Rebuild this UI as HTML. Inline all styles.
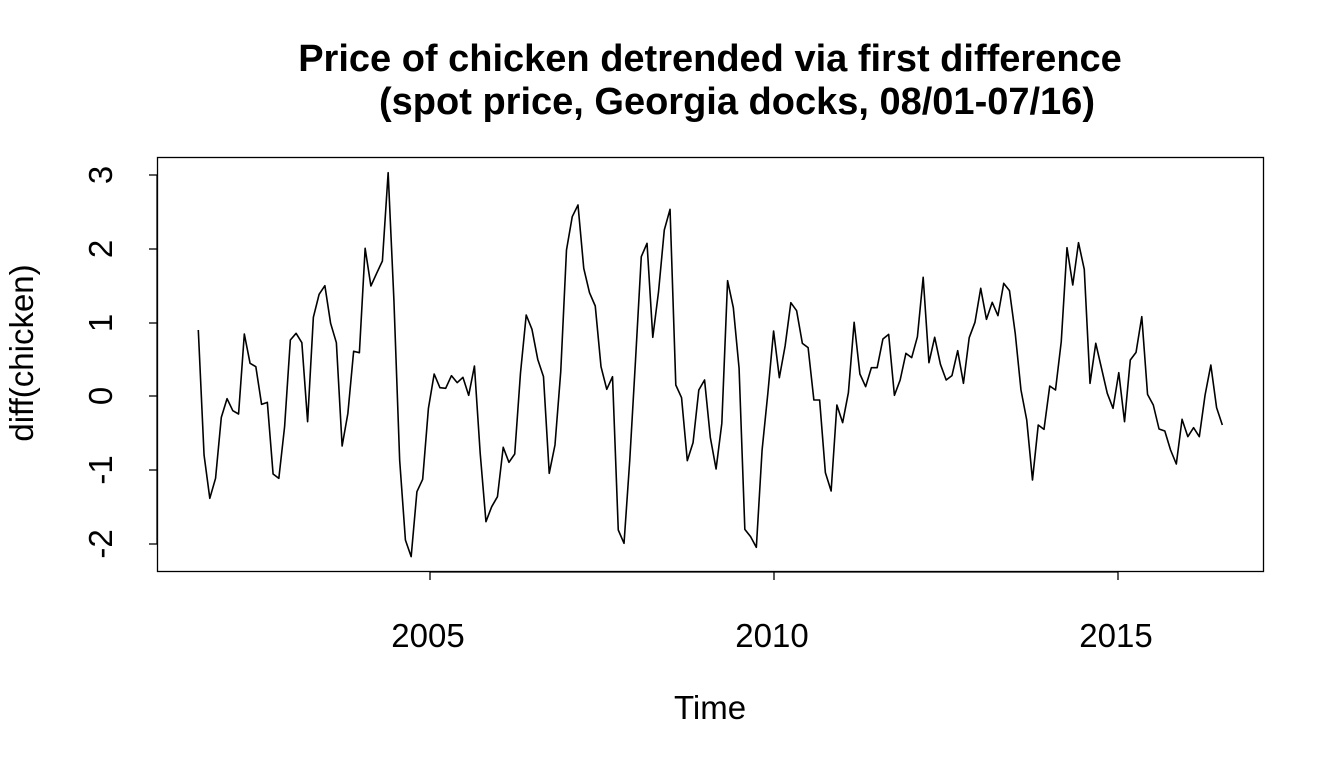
<!DOCTYPE html>
<html><head><meta charset="utf-8"><style>body{margin:0;background:#fff}svg{display:block}</style></head><body>
<svg width="1344" height="768" xmlns="http://www.w3.org/2000/svg" font-family="Liberation Sans, Arial, sans-serif">
<rect width="1344" height="768" fill="#fff"/>
<text x="710" y="71" font-size="38" font-weight="bold" text-anchor="middle">Price of chicken detrended via first difference</text>
<text x="737" y="114" font-size="38" font-weight="bold" text-anchor="middle">(spot price, Georgia docks, 08/01-07/16)</text>
<rect x="157.5" y="157.5" width="1106" height="414" fill="none" stroke="#000" stroke-width="1.3"/>
<g stroke="#000" stroke-width="1.3">
<line x1="430" y1="572" x2="1118" y2="572"/>
<line x1="430" y1="572" x2="430" y2="580"/><line x1="774" y1="572" x2="774" y2="580"/><line x1="1118" y1="572" x2="1118" y2="580"/>
<line x1="157" y1="175" x2="157" y2="544"/>
<line x1="149" y1="175" x2="157" y2="175"/><line x1="149" y1="249" x2="157" y2="249"/><line x1="149" y1="323" x2="157" y2="323"/><line x1="149" y1="396" x2="157" y2="396"/><line x1="149" y1="470" x2="157" y2="470"/><line x1="149" y1="544" x2="157" y2="544"/>
</g>
<g font-size="33" text-anchor="middle">
<text x="428" y="647">2005</text><text x="772" y="647">2010</text><text x="1116" y="647">2015</text>
<text x="710" y="719">Time</text>
<text transform="translate(112,175) rotate(-90)">3</text>
<text transform="translate(112,249) rotate(-90)">2</text>
<text transform="translate(112,323) rotate(-90)">1</text>
<text transform="translate(112,396) rotate(-90)">0</text>
<text transform="translate(112,470) rotate(-90)">-1</text>
<text transform="translate(112,544) rotate(-90)">-2</text>
<text transform="translate(33,353) rotate(-90)">diff(chicken)</text>
</g>
<polyline transform="translate(198.3,160) scale(5.753,0.333333)" vector-effect="non-scaling-stroke" fill="none" stroke="#000" stroke-width="1.6" stroke-linejoin="round" points="
0,510 1,885 2,1015 3,955 4,772 5,716 6,752 7,762 8,522 9,610 10,620 11,733 12,727 13,942 14,955 15,800 16,540 17,520 18,548 19,785 20,472 21,403 22,377 23,490 24,548 25,858 26,760 27,574 28,578 29,265 30,378 31,340 32,303 33,38 34,420 35,900 36,1140 37,1190 38,995 39,958 40,745 41,642 42,683 43,685 44,647 45,668 46,652 47,706 48,618 49,880 50,1085 51,1040 52,1010 53,862 54,907 55,882 56,640 57,465 58,508 59,598 60,650 61,940 62,855 63,635 64,270 65,170 66,135 67,325 68,398 69,438 70,620 71,688 72,650 73,1110 74,1150 75,900 76,600 77,290 78,250 79,532 80,395 81,210 82,148 83,675 84,713 85,902 86,848 87,690 88,660 89,832 90,927 91,790 92,362 93,443 94,625 95,1108 96,1130 97,1162 98,870 99,700 100,513 101,653 102,558 103,428 104,452 105,550 106,563 107,720 108,720 109,938 110,993 111,735 112,788 113,698 114,487 115,642 116,680 117,623 118,623 119,537 120,523 121,706 122,660 123,580 124,593 125,530 126,352 127,608 128,532 129,613 130,660 131,647 132,572 133,670 134,533 135,487 136,385 137,478 138,427 139,467 140,370 141,392 142,520 143,690 144,780 145,960 146,795 147,808 148,678 149,690 150,545 151,263 152,375 153,248 154,328 155,670 156,550 157,625 158,700 159,745 160,638 161,785 162,600 163,577 164,470 165,703 166,735 167,807 168,813 169,870 170,912 171,778 172,830 173,803 174,830 175,705 176,615 177,743 178,795"/>
</svg>
</body></html>
